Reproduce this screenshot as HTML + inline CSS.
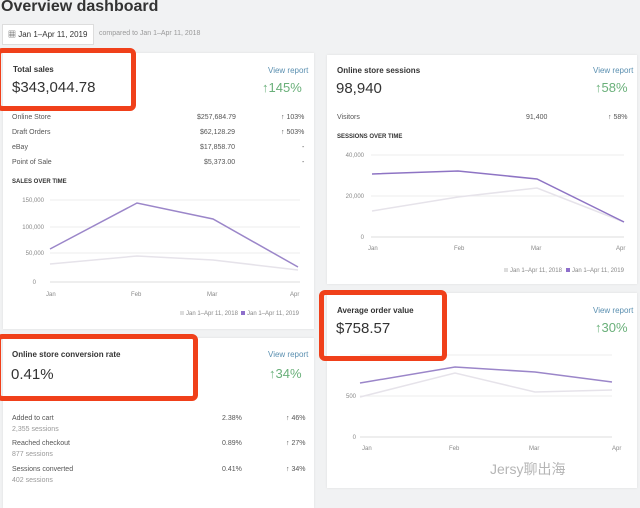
<!DOCTYPE html>
<html><head><meta charset="utf-8"><style>
body{margin:0;width:640px;height:501px;background:#f1f2f3;font-family:"Liberation Sans","Noto Sans CJK SC",sans-serif;position:relative;overflow:hidden;color:#333}
.a{position:absolute;white-space:nowrap}
.card{position:absolute;background:#fff;box-shadow:0 0 2px #ddd}
.red{position:absolute;border:5px solid #f0401a;border-radius:6px;box-sizing:border-box}
.s{font-size:7px;color:#555}
.vr{font-size:8px;color:#5a8fb0}
.g{color:#6ab07a}
</style></head><body>
<div class="a" style="left:1px;top:-2px;font-size:16px;font-weight:bold;color:#333">Overview dashboard</div>
<div class="a" style="left:2px;top:24px;width:90px;height:19px;background:#fff;border:1px solid #ddd"></div>
<div class="a" style="left:8px;top:29px;font-size:8px">▦ Jan 1–Apr 11, 2019</div>
<div class="a s" style="left:99px;top:30px;color:#999">compared to Jan 1–Apr 11, 2018</div>

<div class="card" style="left:3px;top:53px;width:311px;height:276px"></div>
<div class="card" style="left:327px;top:55px;width:310px;height:229px"></div>
<div class="card" style="left:327px;top:293px;width:310px;height:195px"></div>
<div class="card" style="left:3px;top:338px;width:311px;height:170px"></div>

<div class="a" style="left:13px;top:65px;font-size:8px;font-weight:bold">Total sales</div>
<div class="a" style="left:12px;top:79px;font-size:15px">$343,044.78</div>
<div class="a vr" style="left:268px;top:66px">View report</div>
<div class="a g" style="left:262px;top:80px;font-size:13px">↑145%</div>
<div class="a s" style="left:12px;top:114px">Online Store</div><div class="a s" style="left:197px;top:114px">$257,684.79</div><div class="a s" style="left:281px;top:114px">↑ 103%</div>
<div class="a s" style="left:12px;top:129px">Draft Orders</div><div class="a s" style="left:200px;top:129px">$62,128.29</div><div class="a s" style="left:281px;top:129px">↑ 503%</div>
<div class="a s" style="left:12px;top:144px">eBay</div><div class="a s" style="left:200px;top:144px">$17,858.70</div><div class="a s" style="left:302px;top:144px">-</div>
<div class="a s" style="left:12px;top:159px">Point of Sale</div><div class="a s" style="left:204px;top:159px">$5,373.00</div><div class="a s" style="left:302px;top:159px">-</div>
<div class="a" style="left:12px;top:179px;font-size:6px;font-weight:bold">SALES OVER TIME</div>

<div class="a" style="left:337px;top:66px;font-size:8px;font-weight:bold">Online store sessions</div>
<div class="a" style="left:336px;top:80px;font-size:15px">98,940</div>
<div class="a vr" style="left:593px;top:66px">View report</div>
<div class="a g" style="left:595px;top:80px;font-size:13px">↑58%</div>
<div class="a s" style="left:337px;top:114px">Visitors</div><div class="a s" style="left:526px;top:114px">91,400</div><div class="a s" style="left:608px;top:114px">↑ 58%</div>
<div class="a" style="left:337px;top:134px;font-size:6px;font-weight:bold">SESSIONS OVER TIME</div>

<div class="a" style="left:337px;top:306px;font-size:8px;font-weight:bold">Average order value</div>
<div class="a" style="left:336px;top:320px;font-size:15px">$758.57</div>
<div class="a vr" style="left:593px;top:306px">View report</div>
<div class="a g" style="left:595px;top:320px;font-size:13px">↑30%</div>

<div class="a" style="left:12px;top:350px;font-size:8px;font-weight:bold">Online store conversion rate</div>
<div class="a" style="left:11px;top:366px;font-size:15px">0.41%</div>
<div class="a vr" style="left:268px;top:350px">View report</div>
<div class="a g" style="left:269px;top:366px;font-size:13px">↑34%</div>
<div class="a s" style="left:12px;top:415px">Added to cart</div><div class="a s" style="left:12px;top:426px;color:#999">2,355 sessions</div><div class="a s" style="left:222px;top:415px">2.38%</div><div class="a s" style="left:286px;top:415px">↑ 46%</div>
<div class="a s" style="left:12px;top:440px">Reached checkout</div><div class="a s" style="left:12px;top:451px;color:#999">877 sessions</div><div class="a s" style="left:222px;top:440px">0.89%</div><div class="a s" style="left:286px;top:440px">↑ 27%</div>
<div class="a s" style="left:12px;top:466px">Sessions converted</div><div class="a s" style="left:12px;top:477px;color:#999">402 sessions</div><div class="a s" style="left:222px;top:466px">0.41%</div><div class="a s" style="left:286px;top:466px">↑ 34%</div>

<svg class="a" style="left:0;top:0" width="640" height="501" font-family="Liberation Sans" font-size="6" fill="#888">
<g stroke="#eee" stroke-width="1">
<line x1="50" y1="200" x2="300" y2="200"/><line x1="50" y1="227" x2="300" y2="227"/><line x1="50" y1="253" x2="300" y2="253"/><line x1="50" y1="282" x2="300" y2="282" stroke="#ddd"/>
<line x1="371" y1="155" x2="624" y2="155"/><line x1="371" y1="196" x2="624" y2="196"/><line x1="371" y1="237" x2="624" y2="237" stroke="#ddd"/>
<line x1="360" y1="355" x2="612" y2="355"/><line x1="360" y1="396" x2="612" y2="396"/><line x1="360" y1="437" x2="612" y2="437" stroke="#ddd"/>
</g>
<text x="44" y="202" text-anchor="end">150,000</text><text x="44" y="229" text-anchor="end">100,000</text><text x="44" y="255" text-anchor="end">50,000</text><text x="36" y="284" text-anchor="end">0</text>
<text x="46" y="296">Jan</text><text x="131" y="296">Feb</text><text x="207" y="296">Mar</text><text x="290" y="296">Apr</text>
<polyline fill="none" stroke="#e6e3ea" stroke-width="1.5" points="50,264 137,256 213,260 298,270"/>
<polyline fill="none" stroke="#9b86c9" stroke-width="1.5" points="50,249 137,203 213,219 298,267"/>
<rect x="180" y="311" width="4" height="4" fill="#ddd"/><text x="186" y="315">Jan 1–Apr 11, 2018</text>
<rect x="241" y="311" width="4" height="4" fill="#8e6fcb"/><text x="247" y="315">Jan 1–Apr 11, 2019</text>

<text x="364" y="157" text-anchor="end">40,000</text><text x="364" y="198" text-anchor="end">20,000</text><text x="364" y="239" text-anchor="end">0</text>
<text x="368" y="250">Jan</text><text x="454" y="250">Feb</text><text x="531" y="250">Mar</text><text x="616" y="250">Apr</text>
<polyline fill="none" stroke="#e6e3ea" stroke-width="1.5" points="372,211 458,197 537,188 624,222"/>
<polyline fill="none" stroke="#8e74c4" stroke-width="1.5" points="372,174 458,171 537,179 624,222"/>
<rect x="504" y="268" width="4" height="4" fill="#ddd"/><text x="510" y="272">Jan 1–Apr 11, 2018</text>
<rect x="566" y="268" width="4" height="4" fill="#8e6fcb"/><text x="572" y="272">Jan 1–Apr 11, 2019</text>

<text x="356" y="398" text-anchor="end">500</text><text x="356" y="439" text-anchor="end">0</text>
<text x="362" y="450">Jan</text><text x="449" y="450">Feb</text><text x="529" y="450">Mar</text><text x="612" y="450">Apr</text>
<polyline fill="none" stroke="#e6e3ea" stroke-width="1.5" points="360,397 455,373 535,392 612,390"/>
<polyline fill="none" stroke="#9b86c9" stroke-width="1.5" points="360,383 455,367 535,372 612,382"/>
<text x="490" y="474" font-size="14" fill="#b5b5b5" font-family="Liberation Sans, Noto Sans CJK SC, sans-serif">Jersy聊出海</text>
</svg>

<div class="red" style="left:-4px;top:48px;width:140px;height:63px"></div>
<div class="red" style="left:-4px;top:334px;width:202px;height:67px"></div>
<div class="red" style="left:319px;top:290px;width:128px;height:71px"></div>
</body></html>
